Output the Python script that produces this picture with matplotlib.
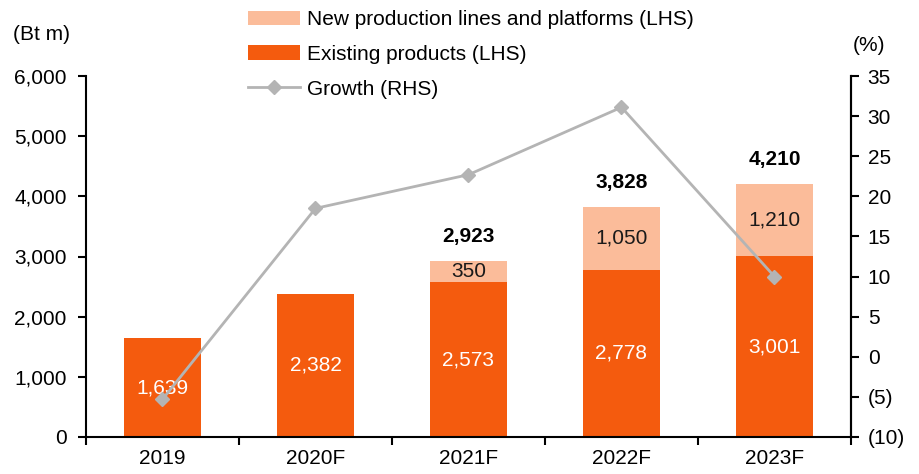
import numpy as np
import matplotlib.pyplot as plt
from matplotlib.ticker import FuncFormatter, FixedLocator

plt.rcParams['font.family'] = ['Liberation Sans', 'DejaVu Sans']

# data
years = ['2019', '2020F', '2021F', '2022F', '2023F']
existing = [1639, 2382, 2573, 2778, 3001]
new_lines = [0, 0, 350, 1050, 1210]
totals = [None, None, 2923, 3828, 4210]
growth = [-5.3, 18.5, 22.7, 31.1, 10.0]

c_exist = '#F45B0E'
c_new = '#FBBC9A'
c_line = '#B4B4B4'
fs = 15

fig = plt.figure(figsize=(9.2, 4.74), dpi=100)
ax = fig.add_axes([86/920, 37/474, 765/920, 361/474])
x = np.arange(len(years))

b1 = ax.bar(x, existing, width=0.5, color=c_exist, label='Existing products (LHS)', zorder=2)
b2 = ax.bar(x, new_lines, width=0.5, bottom=existing, color=c_new,
            label='New production lines and platforms (LHS)', zorder=2)

for i in range(len(years)):
    ax.text(x[i], existing[i] / 2, f'{existing[i]:,}', ha='center', va='center',
            color='white', fontsize=fs, zorder=3)
    if new_lines[i] > 0:
        ax.text(x[i], existing[i] + new_lines[i] / 2, f'{new_lines[i]:,}', ha='center',
                va='center', color='#1a1a1a', fontsize=fs, zorder=3)
    if totals[i] is not None:
        ax.text(x[i], totals[i] + 410, f'{totals[i]:,}', ha='center', va='center',
                color='black', fontsize=fs, fontweight='bold', zorder=3)

ax.set_xlim(-0.5, len(years) - 0.5)
ax.set_ylim(0, 6000)
ax.set_yticks(np.arange(0, 6001, 1000))
ax.yaxis.set_major_formatter(FuncFormatter(lambda v, p: f'{int(v):,}'))
ax.set_xticks(x)
ax.set_xticklabels(years)
ax.xaxis.set_minor_locator(FixedLocator(np.arange(-0.5, len(years), 1.0)))
ax.tick_params(axis='x', which='major', length=0, pad=9, labelsize=fs)
ax.tick_params(axis='x', which='minor', length=6, width=1.5, direction='out')
ax.tick_params(axis='y', length=6, width=1.5, direction='out', labelsize=fs, pad=8)
ax.spines['top'].set_visible(False)
for s in ['left', 'bottom', 'right']:
    ax.spines[s].set_linewidth(1.5)

ax2 = ax.twinx()
ln, = ax2.plot(x, growth, color=c_line, lw=2, marker='D', markersize=7,
               markerfacecolor=c_line, markeredgecolor=c_line, label='Growth (RHS)')
ax2.set_ylim(-10, 35)
ax2.set_yticks(np.arange(-10, 36, 5))
ax2.yaxis.set_major_formatter(FuncFormatter(
    lambda v, p: f'({abs(int(v))})' if v < 0 else f'{int(v)}'))
ax2.tick_params(axis='y', length=6, width=1.5, direction='out', labelsize=fs, pad=6)
ax2.spines['top'].set_visible(False)
ax2.spines['left'].set_visible(False)
ax2.spines['bottom'].set_visible(False)
ax2.spines['right'].set_linewidth(1.5)

fig.text(13/920, 1 - 35/474, '(Bt m)', fontsize=fs, va='center', ha='left')
fig.text(869/920, 1 - 45/474, '(%)', fontsize=fs, va='center', ha='center')

fig.legend([b2, b1, ln], [b2.get_label(), b1.get_label(), ln.get_label()],
           loc='upper left', bbox_to_anchor=(240/920, 1 - 2/474), frameon=False,
           fontsize=fs, handlelength=2.5, handletextpad=0.3, labelspacing=0.75,
           borderaxespad=0.0)

fig.savefig('out.png', dpi=100)
